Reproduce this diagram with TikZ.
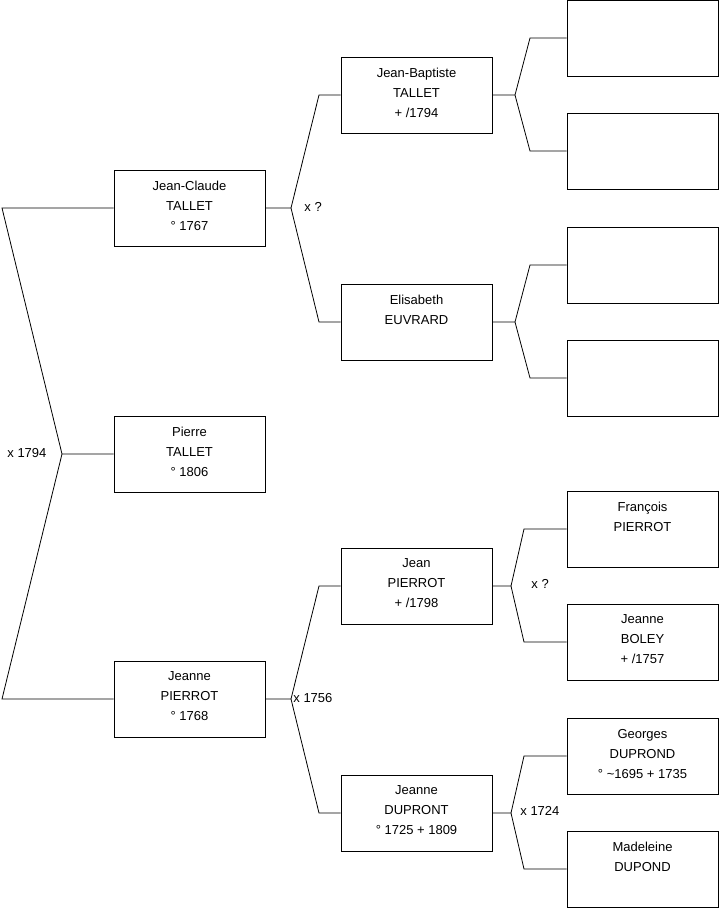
\documentclass[tikz,border=0pt]{standalone}
\usepackage{fontspec}
\setmainfont{Liberation Sans}
\begin{document}
\begin{tikzpicture}[x=1pt,y=-1pt,line width=0.8pt,
  pbox/.style={draw, minimum width=151pt, minimum height=76pt, inner sep=0pt},
  ptxt/.style={anchor=north, inner sep=0pt, align=center, font=\fontsize{13}{20}\selectfont,
    execute at begin node={\rule{0pt}{10pt}}},
  lbl/.style={inner sep=0pt, anchor=base west, font=\fontsize{13}{15}\selectfont}]
\useasboundingbox (0,0) rectangle (719,908);
% generation 1
\node[pbox] (pt) at (189.5,454) {};
\node[pbox] (jc) at (189.5,208) {};
\node[pbox] (jp) at (189.5,699) {};
% generation 2
\node[pbox] (jb) at (416.5,95) {};
\node[pbox] (el) at (416.5,322) {};
\node[pbox] (jpi) at (416.5,586) {};
\node[pbox] (jd) at (416.5,813) {};
% generation 3
\node[pbox] (a1) at (642.5,38) {};
\node[pbox] (a2) at (642.5,151) {};
\node[pbox] (a3) at (642.5,265) {};
\node[pbox] (a4) at (642.5,378) {};
\node[pbox] (fp) at (642.5,529) {};
\node[pbox] (jbo) at (642.5,642) {};
\node[pbox] (gd) at (642.5,756) {};
\node[pbox] (md) at (642.5,869) {};
% texts
\node[ptxt] (tpt) at ([yshift=-11pt]pt.north) {Pierre\\TALLET\\° 1806};
\node[ptxt] (tjc) at ([yshift=-11pt]jc.north) {Jean-Claude\\TALLET\\° 1767};
\node[ptxt] (tjp) at ([yshift=-11pt]jp.north) {Jeanne\\PIERROT\\° 1768};
\node[ptxt] (tjb) at ([yshift=-11pt]jb.north) {Jean-Baptiste\\TALLET\\+ /1794};
\node[ptxt] (tel) at ([yshift=-11pt]el.north) {Elisabeth\\EUVRARD};
\node[ptxt] (tjpi) at ([yshift=-11pt]jpi.north) {Jean\\PIERROT\\+ /1798};
\node[ptxt] (tjd) at ([yshift=-11pt]jd.north) {Jeanne\\DUPRONT\\° 1725 + 1809};
\node[ptxt] (tfp) at ([yshift=-11pt]fp.north) {François\\PIERROT};
\node[ptxt] (tjbo) at ([yshift=-11pt]jbo.north) {Jeanne\\BOLEY\\+ /1757};
\node[ptxt] (tgd) at ([yshift=-11pt]gd.north) {Georges\\DUPROND\\° \textasciitilde1695 + 1735};
\node[ptxt] (tmd) at ([yshift=-11pt]md.north) {Madeleine\\DUPOND};
% fork coordinates
\coordinate (f0) at (62,454);
\coordinate (f0a) at (2,208);
\coordinate (f0b) at (2,699);
\coordinate (f1) at (291,208);
\coordinate (f1a) at (319,95);
\coordinate (f1b) at (319,322);
\coordinate (f2) at (291,699);
\coordinate (f2a) at (319,586);
\coordinate (f2b) at (319,813);
\coordinate (f3) at (515,95);
\coordinate (f3a) at (530,38);
\coordinate (f3b) at (530,151);
\coordinate (f4) at (515,322);
\coordinate (f4a) at (530,265);
\coordinate (f4b) at (530,378);
\coordinate (f5) at (511,586);
\coordinate (f5a) at (524,529);
\coordinate (f5b) at (524,642);
\coordinate (f6) at (511,813);
\coordinate (f6a) at (524,756);
\coordinate (f6b) at (524,869);
% connectors
\draw (pt.west) -- (f0) -- (f0a) -- (jc.west);
\draw (f0) -- (f0b) -- (jp.west);
\draw (jc.east) -- (f1) -- (f1a) -- (jb.west);
\draw (f1) -- (f1b) -- (el.west);
\draw (jp.east) -- (f2) -- (f2a) -- (jpi.west);
\draw (f2) -- (f2b) -- (jd.west);
\draw (jb.east) -- (f3) -- (f3a) -- (a1.west);
\draw (f3) -- (f3b) -- (a2.west);
\draw (el.east) -- (f4) -- (f4a) -- (a3.west);
\draw (f4) -- (f4b) -- (a4.west);
\draw (jpi.east) -- (f5) -- (f5a) -- (fp.west);
\draw (f5) -- (f5b) -- (jbo.west);
\draw (jd.east) -- (f6) -- (f6a) -- (gd.west);
\draw (f6) -- (f6b) -- (md.west);
% marriage labels
\node[lbl] (m0) at (7,457) {x 1794};
\node[lbl] (m1) at (304,211) {x ?};
\node[lbl] (m2) at (293,702) {x 1756};
\node[lbl] (m5) at (531,588) {x ?};
\node[lbl] (m6) at (520,815) {x 1724};
\end{tikzpicture}
\end{document}
